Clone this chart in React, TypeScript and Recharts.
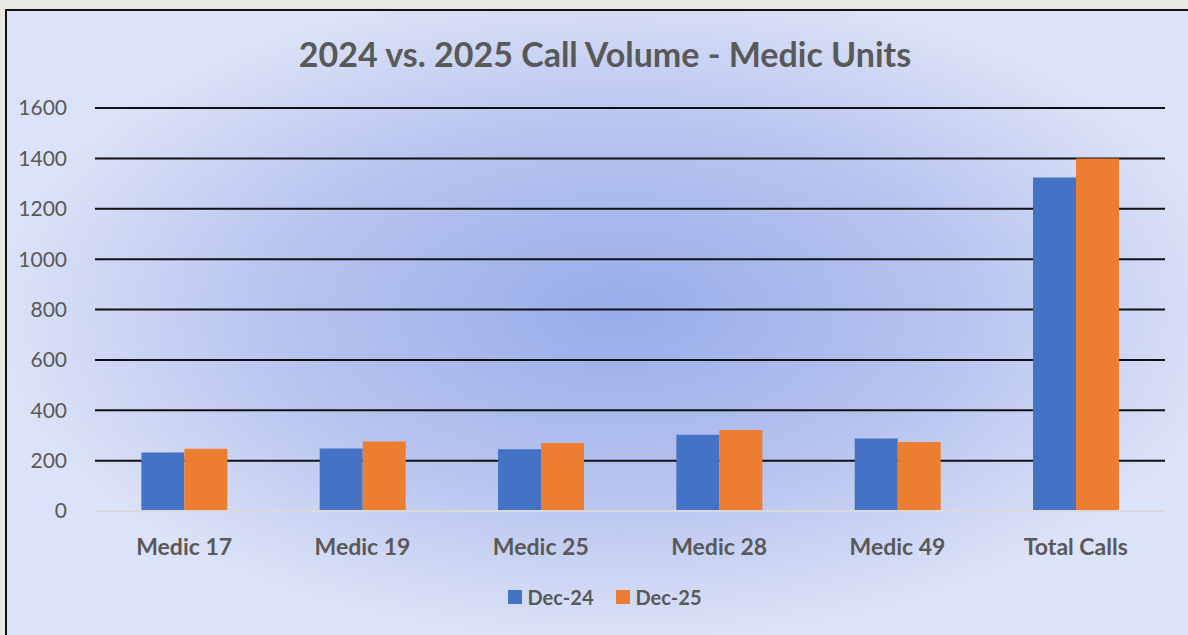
import React from 'react';
import { BarChart, Bar, XAxis, YAxis, CartesianGrid, Legend, ReferenceLine } from 'recharts';

const units = ['Medic 17', 'Medic 19', 'Medic 25', 'Medic 28', 'Medic 49', 'Total Calls'];
const dec24 = [232, 248, 245, 303, 288, 1324];
const dec25 = [247, 276, 270, 322, 274, 1400];
const yTicks = [0, 200, 400, 600, 800, 1000, 1200, 1400, 1600];

const data = units.map((name, i) => ({ name, dec24: dec24[i], dec25: dec25[i] }));

const textColor = '#595959';
const font = 'Lato, "Open Sans", sans-serif';

// legend drawn from the payload Recharts hands over
const LegendBox = (props: any) => (
  <div style={{ display: 'flex', justifyContent: 'center', gap: 22, paddingLeft: 44, fontFamily: font, fontSize: 20, fontWeight: 700, color: textColor }}>
    {(props.payload || []).map((p: any) => (
      <div key={p.value} style={{ display: 'flex', alignItems: 'center', gap: 6 }}>
        <span style={{ width: 14, height: 14, background: p.color, display: 'inline-block' }} />
        <span>{p.value}</span>
      </div>
    ))}
  </div>
);

export default function App() {
  return (
    <div style={{ position: 'absolute', left: 0, top: 0, width: 1188, height: 635, background: '#e9e8e3', overflow: 'hidden' }}>
      <div
        style={{
          position: 'absolute',
          left: 5,
          top: 9,
          width: 1200,
          height: 640,
          borderLeft: '2px solid #111',
          borderTop: '2px solid #111',
          background: 'radial-gradient(ellipse 620px 330px at 610px 300px, #98acea 0%, #b7c4ef 55%, #dce2f7 100%)',
        }}
      />
      <div
        style={{
          position: 'absolute',
          top: 33,
          left: 0,
          width: 1210,
          textAlign: 'center',
          fontFamily: font,
          fontWeight: 700,
          fontSize: 34,
          color: textColor,
        }}
      >
        2024 vs. 2025 Call Volume - Medic Units
      </div>
      <div style={{ position: 'absolute', left: 0, top: 0 }}>
        <BarChart
          width={1188}
          height={635}
          data={data}
          margin={{ top: 108, right: 23, bottom: 44, left: 0 }}
          barCategoryGap="26%"
          barGap={0}
        >
          <CartesianGrid vertical={false} stroke="#111" strokeWidth={2} />
          <XAxis
            dataKey="name"
            height={50}
            axisLine={false}
            tickLine={false}
            tick={{ fill: textColor, fontSize: 23, fontWeight: 700, fontFamily: font }}
            tickMargin={22}
          />
          <YAxis
            width={95}
            domain={[0, 1600]}
            ticks={yTicks}
            axisLine={false}
            tickLine={false}
            tickMargin={22}
            tick={{ fill: textColor, fontSize: 21, fontFamily: font }}
          />
          <ReferenceLine y={0} stroke="#d9d9d9" strokeWidth={2} />
          <Legend height={30} verticalAlign="bottom" content={<LegendBox />} wrapperStyle={{ bottom: 20 }} />
          <Bar dataKey="dec24" name="Dec-24" fill="#4472C4" isAnimationActive={false} />
          <Bar dataKey="dec25" name="Dec-25" fill="#ED7D31" isAnimationActive={false} />
        </BarChart>
      </div>
    </div>
  );
}
